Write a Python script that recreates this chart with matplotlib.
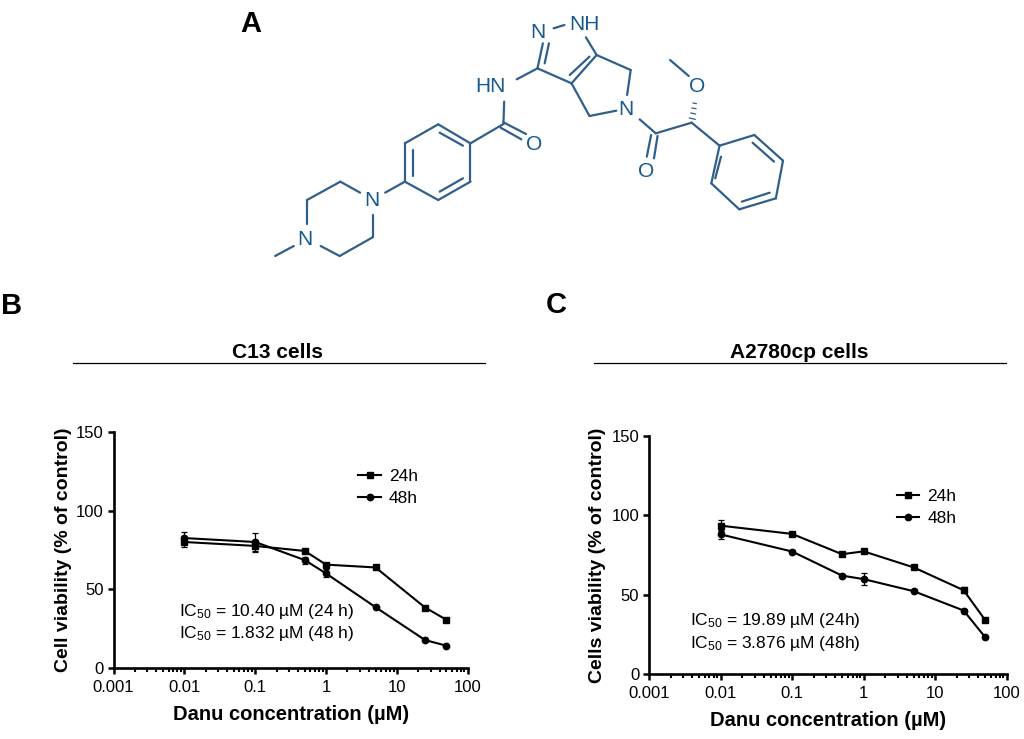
"""Danu viability curves in C13 and A2780cp cells, with the compound structure above."""

import matplotlib

matplotlib.use("Agg")
import matplotlib.pyplot as plt
from matplotlib.lines import Line2D

plt.rcParams["font.family"] = ["Liberation Sans", "DejaVu Sans"]
plt.rcParams["mathtext.fontset"] = "custom"
plt.rcParams["mathtext.rm"] = "Liberation Sans"
plt.rcParams["mathtext.default"] = "rm"

FIG_W, FIG_H = 1024, 739

conc = [0.01, 0.1, 0.5, 1, 5, 25, 50]
x_ticks = [0.001, 0.01, 0.1, 1, 10, 100]
x_tick_labels = ["0.001", "0.01", "0.1", "1", "10", "100"]
y_ticks = [0, 50, 100, 150]

c13_24h = [80, 77.5, 74.3, 65.6, 63.8, 38.3, 30.5]
c13_24h_err = [3, 4, 1.5, 1.2, 1, 1, 0.8]
c13_48h = [82.5, 80, 68.5, 60, 38.5, 17.6, 14]
c13_48h_err = [3.8, 5.8, 2.2, 2.5, 0.5, 0.5, 0.5]

a2780_24h = [93.5, 88.3, 75.5, 77.3, 67.2, 52.8, 34]
a2780_24h_err = [3.5, 1, 1, 0.8, 1, 1.8, 0.8]
a2780_48h = [88, 77.2, 62, 59.8, 52.2, 40, 23.2]
a2780_48h_err = [3, 0.8, 1, 3.8, 0.5, 0.8, 0.5]

# structure drawing, in pixels of the enlarged crop starting at (240, 0)
bonds = [
    ((98, 768), (150, 738)), ((225, 738), (278, 768)), ((278, 768), (370, 712)),
    ((370, 712), (370, 645)), ((187, 672), (187, 600)), ((187, 600), (280, 545)),
    ((280, 545), (335, 578)), ((405, 578), (460, 545)),
    ((460, 545), (460, 430)), ((460, 430), (553, 373)), ((553, 373), (643, 430)),
    ((643, 430), (643, 545)), ((643, 545), (553, 600)), ((553, 600), (460, 545)),
    ((482, 527), (482, 450)), ((557, 398), (622, 437)), ((557, 575), (622, 535)),
    ((643, 430), (735, 372)), ((735, 372), (737, 305)), ((735, 367), (798, 402)),
    ((727, 383), (785, 418)), ((772, 238), (830, 205)),
    ((830, 205), (845, 130)), ((850, 190), (862, 130)), ((875, 85), (905, 75)),
    ((965, 112), (995, 165)), ((995, 165), (925, 250)), ((975, 170), (920, 225)),
    ((830, 205), (925, 250)), ((995, 165), (1090, 210)), ((1090, 210), (1080, 285)),
    ((925, 250), (975, 348)), ((975, 348), (1050, 332)), ((1115, 358), (1160, 400)),
    ((1165, 408), (1155, 475)), ((1147, 405), (1135, 470)), ((1160, 400), (1260, 368)),
    ((1200, 180), (1252, 228)), ((1260, 368), (1338, 437)),
    ((1338, 437), (1435, 405)), ((1435, 405), (1515, 482)), ((1515, 482), (1495, 595)),
    ((1495, 595), (1393, 628)), ((1393, 628), (1315, 550)), ((1315, 550), (1338, 437)),
    ((1430, 428), (1490, 485)), ((1400, 605), (1478, 578)), ((1342, 470), (1326, 535)),
]
hash_marks = [
    ((1254, 354), (1270, 358)), ((1258, 339), (1271, 342)),
    ((1261, 324), (1272, 326)), ((1264, 309), (1273, 311)),
]
atoms = [
    (832, 98, "N"), (962, 72, "NH"), (700, 260, "HN"), (820, 433, "O"),
    (1077, 328, "N"), (1132, 515, "O"), (1275, 260, "O"), (368, 602, "N"),
    (180, 718, "N"),
]
BOND_COLOR = "#2f5f8a"
ATOM_COLOR = "#15598f"


def add_axes_px(fig, left, right, top, bottom):
    return fig.add_axes(
        [left / FIG_W, 1 - bottom / FIG_H, (right - left) / FIG_W, (bottom - top) / FIG_H]
    )


def draw_structure(ov):
    to_px = lambda p: (240 + p[0] / 2.79, p[1] / 3)
    for a, b in bonds:
        pa, pb = to_px(a), to_px(b)
        ov.plot([pa[0], pb[0]], [pa[1], pb[1]], color=BOND_COLOR, lw=1.6, solid_capstyle="round")
    for a, b in hash_marks:
        pa, pb = to_px(a), to_px(b)
        ov.plot([pa[0], pb[0]], [pa[1], pb[1]], color=BOND_COLOR, lw=0.9)
    for zx, zy, label in atoms:
        px, py = to_px((zx, zy))
        ov.text(px, py, label, color=ATOM_COLOR, fontsize=15, ha="center", va="center")


def draw_panel(ax, y24, err24, y48, err48, ic_lines, ic_xy, legend_xy):
    for y, err, marker, ms in [(y48, err48, "o", 4.6), (y24, err24, "s", 5)]:
        ax.errorbar(
            conc, y, yerr=err, color="black", lw=1.5, marker=marker, ms=ms,
            capsize=2.5, elinewidth=0.9, capthick=0.9,
        )
    ax.set_xscale("log")
    ax.set_xlim(0.001, 100)
    ax.set_ylim(0, 150)
    ax.set_xticks(x_ticks, x_tick_labels)
    ax.set_yticks(y_ticks)
    ax.xaxis.set_minor_locator(
        matplotlib.ticker.LogLocator(base=10, subs=range(2, 10), numticks=12)
    )
    ax.xaxis.set_minor_formatter(matplotlib.ticker.NullFormatter())
    ax.tick_params(axis="x", which="major", width=1.8, length=4.5, labelsize=12, pad=4)
    ax.tick_params(axis="y", which="major", width=1.8, length=4.5, labelsize=12, pad=2.5)
    ax.tick_params(axis="x", which="minor", width=1.5, length=3)
    ax.spines[["top", "right"]].set_visible(False)
    ax.spines[["left", "bottom"]].set_linewidth(1.9)
    ax.patch.set_alpha(0)

    handles = [
        Line2D([], [], color="black", lw=1.5, marker="s", ms=5),
        Line2D([], [], color="black", lw=1.5, marker="o", ms=4.6),
    ]
    ax.legend(
        handles, ["24h", "48h"], loc="center left", bbox_to_anchor=legend_xy,
        frameon=False, fontsize=12.5, handlelength=1.3, handletextpad=0.45,
        labelspacing=0.4, borderpad=0, borderaxespad=0,
    )
    for i, line in enumerate(ic_lines):
        ax.text(ic_xy[0], ic_xy[1] - i * 0.095, line, transform=ax.transAxes,
                fontsize=12.5, ha="left", va="center")


fig = plt.figure(figsize=(FIG_W / 100, FIG_H / 100), dpi=100)
ov = fig.add_axes([0, 0, 1, 1])
ov.set_xlim(0, FIG_W)
ov.set_ylim(FIG_H, 0)
ov.axis("off")

draw_structure(ov)

for x, y, letter in [(251, 24, "A"), (12, 306, "B"), (556, 305, "C")]:
    ov.text(x, y, letter, fontsize=21, fontweight="bold", ha="center", va="center")

ov.plot([73, 485], [363, 363], color="black", lw=0.9)
ov.plot([594, 1006], [363, 363], color="black", lw=0.9)
ov.text(278, 352, "C13 cells", fontsize=15, fontweight="bold", ha="center", va="center")
ov.text(799, 352, "A2780cp cells", fontsize=15, fontweight="bold", ha="center", va="center")

ax_b = add_axes_px(fig, 113.5, 467.7, 432, 667.7)
draw_panel(
    ax_b, c13_24h, c13_24h_err, c13_48h, c13_48h_err,
    ["IC$_{50}$ = 10.40 µM (24 h)", "IC$_{50}$ = 1.832 µM (48 h)"],
    (0.185, 0.24), (0.691, 0.765),
)
ax_c = add_axes_px(fig, 649, 1006.7, 436, 674)
draw_panel(
    ax_c, a2780_24h, a2780_24h_err, a2780_48h, a2780_48h_err,
    ["IC$_{50}$ = 19.89 µM (24h)", "IC$_{50}$ = 3.876 µM (48h)"],
    (0.115, 0.225), (0.693, 0.70),
)

ov.text(291, 715, "Danu concentration (µM)", fontsize=14.5, fontweight="bold", ha="center", va="center")
ov.text(828, 721, "Danu concentration (µM)", fontsize=14.5, fontweight="bold", ha="center", va="center")
ov.text(63, 550, "Cell viability (% of control)", fontsize=14, fontweight="bold",
        rotation=90, ha="center", va="center")
ov.text(598, 555, "Cells viability (% of control)", fontsize=14, fontweight="bold",
        rotation=90, ha="center", va="center")

fig.savefig("out.png", dpi=100)
